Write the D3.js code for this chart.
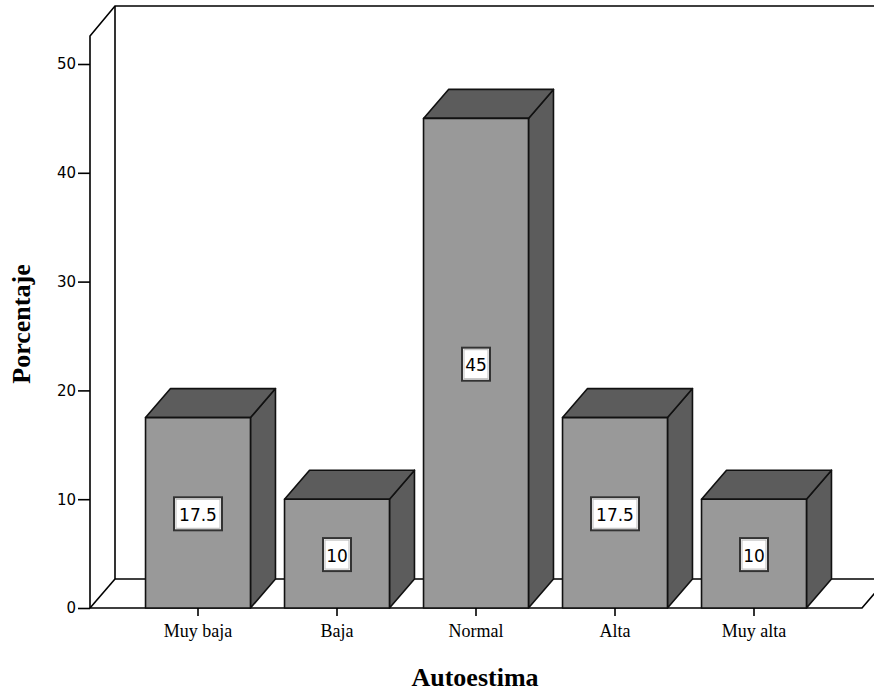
<!DOCTYPE html>
<html>
<head>
<meta charset="utf-8">
<script src="https://cdn.jsdelivr.net/npm/d3@7"></script>
<style>
  body { margin: 0; background: #fff; }
  svg { display: block; }
</style>
</head>
<body>
<div id="chart"></div>
<script>
const categories = ["Muy baja", "Baja", "Normal", "Alta", "Muy alta"];
const values = [17.5, 10, 45, 17.5, 10];
const yTicks = [0, 10, 20, 30, 40, 50];

const W = 874, H = 694;
const AXIS_X = 90, BASE_Y = 608;
const DX = 25, DY = 29;   // depth offset of the 3D box

const svg = d3.select("#chart").append("svg").attr("width", W).attr("height", H);

const x = d3.scaleBand()
  .domain(categories)
  .range([128.5, 823.5])
  .paddingInner(0.245)
  .paddingOuter(0.1225);

const y = d3.scaleLinear().domain([0, 50]).range([BASE_Y, 64]);

const line = d3.line();

// walls and floor
const frame = svg.append("g").attr("fill", "none").attr("stroke", "#000").attr("stroke-width", 1.6);
frame.append("path").attr("d", line([[AXIS_X, BASE_Y], [AXIS_X, 36], [AXIS_X + DX, 36 - DY - 1], [W + 5, 36 - DY - 1]]));
frame.append("path").attr("d", line([[AXIS_X + DX, 36 - DY - 1], [AXIS_X + DX, BASE_Y - DY]]));
frame.append("path").attr("d", line([[AXIS_X + DX, BASE_Y - DY], [W + 30, BASE_Y - DY]]));
frame.append("path").attr("d", line([[AXIS_X, BASE_Y], [AXIS_X + DX, BASE_Y - DY]]));
frame.append("path").attr("d", line([[AXIS_X, BASE_Y], [862, BASE_Y], [862 + DX, BASE_Y - DY]]));

// y axis ticks
const yAxis = svg.append("g")
  .attr("transform", `translate(${AXIS_X},0)`)
  .call(d3.axisLeft(y).tickValues(yTicks).tickSize(12).tickPadding(2))
  .call(g => g.select(".domain").remove());
yAxis.selectAll("line").attr("stroke", "#000").attr("stroke-width", 1.6);
yAxis.selectAll("text")
  .attr("fill", "#000")
  .style("font-family", "'DejaVu Sans', sans-serif")
  .style("font-size", "15px");

// bars
const bars = svg.append("g").selectAll("g.bar")
  .data(categories.map((c, i) => ({ c, v: values[i] })))
  .join("g").attr("class", "bar");

bars.each(function (d) {
  const g = d3.select(this);
  const x0 = x(d.c), w = x.bandwidth(), yt = y(d.v);
  g.append("path")
    .attr("d", line([[x0 + w, yt], [x0 + w + DX, yt - DY], [x0 + w + DX, BASE_Y - DY], [x0 + w, BASE_Y]]) + "Z")
    .attr("fill", "#5c5c5c");
  g.append("path")
    .attr("d", line([[x0, yt], [x0 + DX, yt - DY], [x0 + w + DX, yt - DY], [x0 + w, yt]]) + "Z")
    .attr("fill", "#5c5c5c");
  g.append("rect")
    .attr("x", x0).attr("y", yt).attr("width", w).attr("height", BASE_Y - yt)
    .attr("fill", "#999999");
  g.selectAll("path, rect")
    .attr("stroke", "#111").attr("stroke-width", 1.6).attr("stroke-linejoin", "round");

  // value label
  const cx = x0 + w / 2, cy = (yt + BASE_Y) / 2 + 1;
  const label = String(d.v);
  const bw = label.length * 10 + 8, bh = 33;
  g.append("rect")
    .attr("x", cx - bw / 2).attr("y", cy - bh / 2).attr("width", bw).attr("height", bh)
    .attr("fill", "#fff").attr("stroke", "#333").attr("stroke-width", 2);
  g.append("rect")
    .attr("x", cx - bw / 2 + 2).attr("y", cy - bh / 2 + 2).attr("width", bw - 4).attr("height", bh - 4)
    .attr("fill", "none").attr("stroke", "#bbb").attr("stroke-width", 1);
  g.append("text")
    .attr("x", cx).attr("y", cy + 7)
    .attr("text-anchor", "middle")
    .attr("fill", "#000")
    .style("font-family", "'DejaVu Sans', sans-serif")
    .style("font-size", "17px")
    .text(label);
});

// x axis ticks and labels
const xAxis = svg.append("g")
  .attr("transform", `translate(0,${BASE_Y})`)
  .call(d3.axisBottom(x).tickSize(8).tickPadding(8))
  .call(g => g.select(".domain").remove());
xAxis.selectAll("line").attr("stroke", "#000").attr("stroke-width", 1.6);
xAxis.selectAll("text")
  .attr("fill", "#000")
  .style("font-family", "'Liberation Serif', serif")
  .style("font-size", "18px");

// axis titles
svg.append("text")
  .attr("x", 475).attr("y", 686)
  .attr("text-anchor", "middle")
  .style("font-family", "'Liberation Serif', serif")
  .style("font-weight", "bold")
  .style("font-size", "26px")
  .text("Autoestima");

svg.append("text")
  .attr("transform", "translate(30,324) rotate(-90)")
  .attr("text-anchor", "middle")
  .style("font-family", "'Liberation Serif', serif")
  .style("font-weight", "bold")
  .style("font-size", "26px")
  .text("Porcentaje");
</script>
</body>
</html>
